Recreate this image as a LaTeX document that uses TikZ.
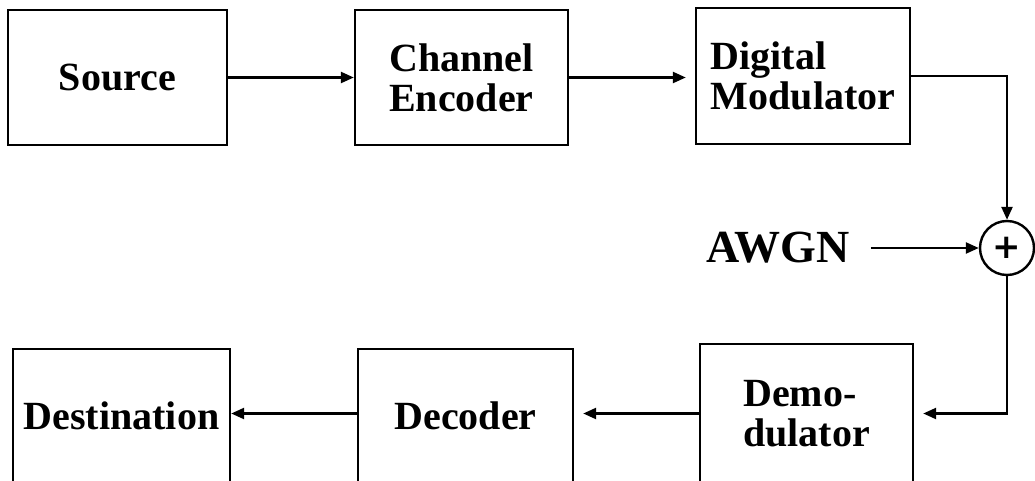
\documentclass[tikz,border=0pt]{standalone}
\usepackage{fontspec}
\setmainfont{Liberation Serif}
\newfontfamily\plusfont{DejaVu Sans}
\usetikzlibrary{arrows.meta}
\begin{document}
\begin{tikzpicture}[x=1pt,y=-1pt,
  blk/.style={draw, line width=2.4pt, rectangle, inner sep=0pt, align=left,
    font=\bfseries\fontsize{40}{40}\selectfont},
  conn/.style={line width=2.4pt, -{Triangle[length=13pt,width=11pt]}},
  gap/.style={shorten >=9pt}]
\clip (0,0) rectangle (1035,481);
\fill[white] (0,0) rectangle (1035,481);
% top row
\node[blk, minimum width=219pt, minimum height=135pt] (src) at (117.5,77.5) {Source};
\node[blk, minimum width=213pt, minimum height=135pt] (enc) at (461.5,77.5) {Channel\\Encoder};
\node[blk, minimum width=214pt, minimum height=136pt] (mod) at (803,76) {Digital\\Modulator};
% adder and noise
\node[draw, circle, line width=2.4pt, minimum size=54pt, inner sep=0pt] (sum) at (1007,248)
  {\plusfont\bfseries\fontsize{34}{34}\selectfont +};
\node[inner sep=0pt, font=\bfseries\fontsize{46}{46}\selectfont] (awgn) at (778,248) {AWGN};
% bottom row
\node[blk, minimum width=217pt, minimum height=134pt] (dest) at (121.5,416) {Destination};
\node[blk, minimum width=215pt, minimum height=134pt] (dec) at (465.5,416) {Decoder};
\node[blk, minimum width=213pt, minimum height=139pt] (demod) at (806.5,413.5) {Demo-\\dulator};
% connectors
\draw[conn] (src) -- (enc);
\draw[conn, gap] (enc.east) -- (enc.east -| mod.west);
\draw[conn] (mod.east) -| (sum.north);
\draw[conn, shorten <=21pt] (awgn.east) -- (sum.west);
\draw[conn, gap] (sum.south) |- (demod.east);
\draw[conn, gap] (demod.west) -- (demod.west -| dec.east);
\draw[conn] (demod.west -| dec.west) -- (demod.west -| dest.east);
\end{tikzpicture}
\end{document}
